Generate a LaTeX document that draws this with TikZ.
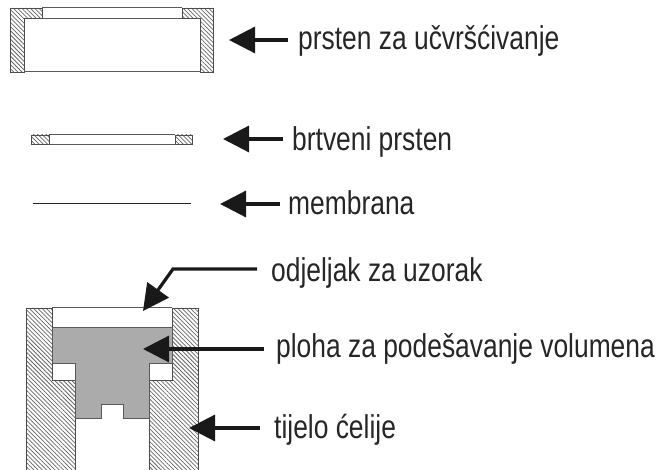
\documentclass[tikz,border=0pt]{standalone}
\usepackage{fontspec}
\setmainfont{Liberation Sans}[FakeStretch=0.8]
\usetikzlibrary{arrows.meta}
\usetikzlibrary{patterns.meta}
\tikzset{
  wall/.style={draw=black!70,line width=0.8pt,pattern={Lines[angle=-45,distance=3pt,line width=0.75pt]},pattern color=black!60},
  edge/.style={draw=black!65,line width=1pt},
  pointer/.style={draw=black!90,line width=3.2pt,-{Triangle[length=26pt,width=26pt]}},
  caption/.style={anchor=base west,font=\fontsize{33}{36}\selectfont,text=black!85,inner sep=0pt}
}
\begin{document}
\begin{tikzpicture}[x=1pt,y=-1pt]
\useasboundingbox (0,0) rectangle (656,470);
% prsten
\draw[wall] (10,8) -- (42,8) -- (42,18.5) -- (24,18.5) -- (24,72) -- (10,72) -- cycle;
\draw[wall] (213.5,8) -- (182,8) -- (182,18.5) -- (200,18.5) -- (200,72) -- (213.5,72) -- cycle;
\draw[edge] (42,8) -- (182,8);
\draw[edge] (42,18.5) -- (182,18.5);
\draw[edge] (24,72) -- (200,72);
% brtva
\draw[wall] (31.5,135) rectangle (49,144.5);
\draw[wall] (175,135) rectangle (192,144.5);
\draw[edge] (49,135) -- (175,135);
\draw[edge] (49,144.5) -- (175,144.5);
% membrana
\draw[edge,draw=black!85] (32.5,204) -- (191,204);
% tijelo
\draw[wall] (26,470) -- (26,308) -- (52,308) -- (52,380) -- (75,380) -- (75,470);
\draw[wall] (198,470) -- (198,308) -- (172,308) -- (172,380) -- (149,380) -- (149,470);
\draw[edge] (52,308) -- (172,308);
\draw[edge,fill=black!33] (52,328) -- (172,328) -- (172,363) -- (149,363) -- (149,418) -- (123,418) -- (123,404) -- (101,404) -- (101,418) -- (75,418) -- (75,363) -- (52,363) -- cycle;
% oznake
\node[caption] (prsten) at (298,50) {prsten za učvršćivanje};
\node[caption] (brtva) at (292,151) {brtveni prsten};
\node[caption] (membrana) at (288,215) {membrana};
\node[caption] (odjeljak) at (271,282) {odjeljak za uzorak};
\node[caption] (ploha) at (276,357) {ploha za podešavanje volumena};
\node[caption] (tijelo) at (274,438) {tijelo ćelije};
\coordinate (tipprsten) at (229,40);
\coordinate (tipbrtva) at (223,139);
\coordinate (tipmembrana) at (220,204);
\coordinate (tipodjeljak) at (143,311);
\coordinate (tipploha) at (143,349);
\coordinate (tiptijelo) at (189,428);
\coordinate (tailprsten) at (288,40);
\coordinate (tailbrtva) at (283,139);
\coordinate (tailmembrana) at (280,204);
\coordinate (tailodjeljak) at (257,269);
\coordinate (tailploha) at (264,349);
\coordinate (tailtijelo) at (260,428);
\draw[pointer] (tailprsten) -- (tipprsten);
\draw[pointer] (tailbrtva) -- (tipbrtva);
\draw[pointer] (tailmembrana) -- (tipmembrana);
\draw[pointer] (tailodjeljak) -- (173,269) -- (tipodjeljak);
\draw[pointer] (tailploha) -- (tipploha);
\draw[pointer] (tailtijelo) -- (tiptijelo);
\end{tikzpicture}
\end{document}
